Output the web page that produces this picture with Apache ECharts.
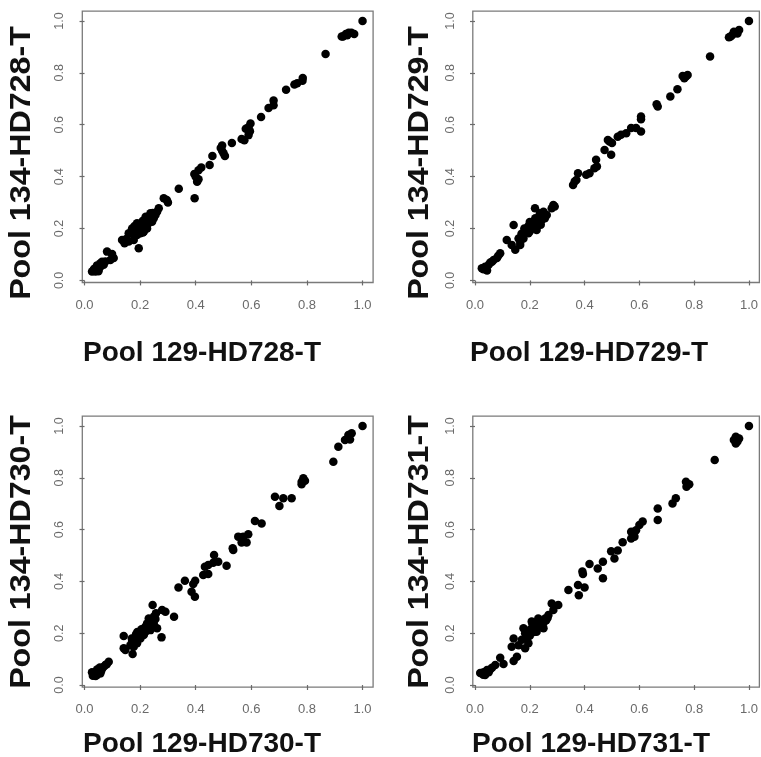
<!DOCTYPE html>
<html>
<head>
<meta charset="utf-8">
<script src="https://cdn.jsdelivr.net/npm/echarts@6/dist/echarts.min.js"></script>
<style>
html,body{margin:0;padding:0;background:#fff;}
#chart{width:761px;height:757px;}
</style>
</head>
<body>
<div id="chart"></div>
<script>
// Tick values shared by all axes
const tickValues = [0, 0.2, 0.4, 0.6, 0.8, 1.0];

// Axis titles
const xTitles = ['Pool 129-HD728-T', 'Pool 129-HD729-T', 'Pool 129-HD730-T', 'Pool 129-HD731-T'];
const yTitles = ['Pool 134-HD728-T', 'Pool 134-HD729-T', 'Pool 134-HD730-T', 'Pool 134-HD731-T'];

// Panel data [x, y]
const hd728 = [
[1.0,1.0],[0.93,0.94],[0.94,0.95],[0.95,0.955],[0.96,0.955],[0.97,0.95],[0.945,0.945],[0.925,0.94],
[0.867,0.873],
[0.785,0.78],[0.784,0.77],[0.765,0.76],[0.755,0.755],
[0.725,0.735],
[0.68,0.693],[0.68,0.675],[0.662,0.665],
[0.635,0.63],
[0.597,0.605],[0.59,0.59],[0.58,0.585],[0.595,0.575],[0.59,0.56],[0.575,0.54],[0.565,0.545],
[0.53,0.53],
[0.495,0.52],[0.495,0.5],[0.5,0.49],[0.505,0.48],[0.49,0.51],
[0.46,0.48],[0.45,0.445],
[0.42,0.435],[0.41,0.425],[0.41,0.39],[0.405,0.38],[0.395,0.41],[0.4,0.4],
[0.396,0.317],[0.339,0.353],
[0.3,0.3],[0.285,0.317],[0.296,0.31],
[0.267,0.278],[0.261,0.265],[0.237,0.259],[0.255,0.252],[0.249,0.24],[0.231,0.246],[0.243,0.226],[0.225,0.233],[0.219,0.214],[0.207,0.22],[0.189,0.22],[0.183,0.195],[0.171,0.2],[0.201,0.2],[0.213,0.188],[0.225,0.2],[0.159,0.182],[0.177,0.175],[0.189,0.175],[0.201,0.182],[0.195,0.21],[0.215,0.205],[0.23,0.22],[0.24,0.235],[0.205,0.195],[0.195,0.19],
[0.18,0.21],[0.2,0.215],[0.21,0.23],[0.22,0.245],[0.235,0.23],[0.25,0.25],[0.17,0.185],[0.185,0.2],[0.215,0.195],[0.225,0.215],[0.245,0.26],[0.21,0.185],
[0.135,0.156],[0.144,0.143],[0.159,0.15],[0.177,0.156],[0.15,0.16],
[0.195,0.124],
[0.081,0.111],[0.099,0.102],[0.105,0.086],[0.093,0.079],[0.075,0.073],
[0.057,0.066],[0.045,0.05],[0.033,0.04],[0.039,0.034],[0.057,0.053],[0.069,0.06],[0.051,0.043],[0.027,0.034],[0.063,0.072],[0.045,0.058],[0.035,0.045],[0.06,0.06],[0.07,0.07],[0.05,0.035]
];
const hd729 = [
[1.0,1.0],[0.927,0.937],[0.939,0.946],[0.958,0.952],[0.964,0.965],[0.945,0.958],[0.933,0.94],
[0.858,0.863],
[0.77,0.786],[0.758,0.788],[0.776,0.792],[0.764,0.779],
[0.739,0.737],[0.713,0.709],
[0.667,0.67],[0.663,0.679],
[0.606,0.632],[0.606,0.621],
[0.606,0.574],[0.588,0.587],[0.57,0.587],[0.552,0.567],[0.533,0.561],[0.521,0.554],[0.491,0.535],[0.485,0.541],[0.497,0.484],[0.473,0.503],[0.5,0.53],
[0.442,0.465],[0.445,0.439],[0.436,0.432],[0.418,0.413],[0.406,0.407],
[0.376,0.413],[0.364,0.381],[0.358,0.368],[0.37,0.387],
[0.286,0.291],[0.28,0.278],[0.291,0.285],
[0.219,0.278],[0.25,0.265],[0.237,0.259],[0.231,0.24],[0.213,0.226],[0.201,0.207],[0.189,0.194],[0.171,0.175],[0.159,0.162],[0.177,0.162],[0.225,0.194],[0.207,0.2],[0.244,0.233],[0.262,0.252],[0.195,0.182],[0.165,0.149],[0.215,0.215],[0.225,0.225],[0.185,0.185],[0.2,0.19],[0.24,0.215],
[0.18,0.2],[0.195,0.21],[0.21,0.205],[0.22,0.24],[0.23,0.215],[0.245,0.25],[0.17,0.18],[0.255,0.24],[0.2,0.225],
[0.141,0.214],
[0.116,0.156],[0.134,0.137],[0.147,0.118],[0.165,0.137],
[0.092,0.105],[0.08,0.086],[0.068,0.079],[0.056,0.069],[0.037,0.053],[0.025,0.047],[0.044,0.038],[0.031,0.043],[0.05,0.06],[0.04,0.045],[0.062,0.072],[0.085,0.095]
];
const hd730 = [
[1.0,1.0],[0.961,0.972],[0.949,0.965],[0.937,0.946],[0.955,0.948],[0.913,0.92],
[0.895,0.862],
[0.787,0.798],[0.781,0.785],[0.793,0.789],[0.781,0.775],
[0.745,0.721],[0.715,0.721],[0.701,0.691],[0.685,0.727],
[0.637,0.624],[0.613,0.633],
[0.589,0.582],[0.571,0.573],[0.565,0.55],[0.583,0.55],[0.553,0.573],
[0.533,0.528],[0.535,0.521],
[0.511,0.461],[0.481,0.476],[0.463,0.472],[0.466,0.502],[0.445,0.463],[0.433,0.457],[0.427,0.425],[0.445,0.429],
[0.398,0.403],[0.391,0.39],[0.385,0.36],[0.397,0.341],[0.361,0.403],[0.338,0.377],
[0.322,0.264],[0.291,0.283],[0.279,0.29],[0.245,0.309],[0.257,0.277],[0.277,0.184],
[0.231,0.257],[0.225,0.238],[0.249,0.238],[0.261,0.219],[0.237,0.212],[0.219,0.206],[0.207,0.2],[0.195,0.187],[0.183,0.18],[0.171,0.167],[0.165,0.154],[0.189,0.161],[0.213,0.193],[0.219,0.225],[0.231,0.232],[0.201,0.18],[0.177,0.148],[0.2,0.2],[0.21,0.215],[0.24,0.25],[0.18,0.17],[0.19,0.175],
[0.185,0.195],[0.195,0.2],[0.205,0.19],[0.215,0.2],[0.225,0.22],[0.235,0.225],[0.245,0.23],[0.235,0.245],[0.255,0.255],[0.17,0.18],[0.19,0.205],[0.205,0.215],[0.25,0.265],[0.175,0.155],
[0.141,0.189],[0.141,0.142],[0.147,0.135],[0.173,0.12],
[0.087,0.09],[0.075,0.077],[0.063,0.064],[0.051,0.058],[0.039,0.049],[0.033,0.039],[0.045,0.039],[0.057,0.045],[0.027,0.049],[0.069,0.071],[0.04,0.035],[0.05,0.05],[0.035,0.045],[0.06,0.055],[0.045,0.06],[0.08,0.08],[0.055,0.068],[0.03,0.036]
];
const hd731 = [
[1.0,1.0],[0.952,0.959],[0.964,0.952],[0.958,0.94],[0.952,0.933],[0.945,0.946],
[0.875,0.869],
[0.77,0.785],[0.782,0.775],[0.772,0.766],
[0.733,0.721],[0.721,0.701],
[0.667,0.682],[0.667,0.637],
[0.612,0.631],[0.6,0.618],[0.588,0.598],[0.57,0.592],[0.582,0.573],[0.57,0.566],[0.539,0.551],
[0.521,0.519],[0.497,0.517],[0.509,0.489],
[0.467,0.476],[0.448,0.45],[0.467,0.412],
[0.418,0.467],[0.392,0.438],[0.394,0.429],
[0.4,0.377],[0.376,0.386],[0.379,0.347],[0.341,0.367],
[0.28,0.315],[0.304,0.309],[0.286,0.29],
[0.268,0.27],[0.256,0.257],[0.244,0.245],[0.231,0.234],[0.213,0.225],[0.201,0.213],[0.183,0.2],[0.207,0.245],[0.231,0.257],[0.25,0.219],[0.225,0.206],[0.195,0.193],[0.177,0.219],[0.189,0.18],[0.171,0.175],[0.22,0.22],[0.24,0.23],[0.26,0.25],
[0.21,0.235],[0.195,0.205],[0.235,0.245],[0.215,0.205],[0.25,0.24],[0.265,0.26],[0.2,0.19],
[0.141,0.18],[0.134,0.148],[0.159,0.154],[0.183,0.142],[0.195,0.161],
[0.153,0.109],[0.141,0.093],
[0.092,0.105],[0.104,0.081],[0.074,0.077],[0.062,0.067],[0.044,0.058],[0.031,0.049],[0.019,0.046],[0.037,0.039],[0.05,0.049],[0.03,0.04],[0.055,0.06],[0.04,0.05]
];
const panels = [hd728, hd729, hd730, hd731];

// Layout (pixel boxes of the four plot regions)
const grids = [
  {left: 82.3, top: 11.1, width: 290.8, height: 271.4},
  {left: 472.8, top: 11.1, width: 287.6, height: 271.4},
  {left: 82.3, top: 416.2, width: 290.8, height: 270.9},
  {left: 472.8, top: 416.2, width: 287.6, height: 270.9}
];
const xTitlePos = [[202, 353], [589, 353], [202, 744], [591, 744]];
const yTitlePos = [[22, 163], [420, 163], [22, 552], [420, 552]];

const FONT = '"Liberation Sans", Arial, sans-serif';
const AXMIN = -0.008, AXMAX = 1.038;

const chart = echarts.init(document.getElementById('chart'), null, {renderer: 'canvas'});

const option = {
  animation: false,
  backgroundColor: '#fff',
  grid: grids.map(g => Object.assign({show: true, borderColor: '#7a7a7a', borderWidth: 1.3, backgroundColor: 'transparent'}, g)),
  xAxis: grids.map((g, i) => ({
    type: 'value', gridIndex: i, min: AXMIN, max: AXMAX,
    splitLine: {show: false},
    axisLine: {show: false},
    axisTick: {show: true, customValues: tickValues, length: 5, inside: false, lineStyle: {color: '#6a6a6a', width: 1.2}},
    axisLabel: {show: true, customValues: tickValues, margin: 16, color: '#6a6a6a', fontSize: 13, fontFamily: FONT,
      formatter: v => v.toFixed(1)}
  })),
  yAxis: grids.map((g, i) => ({
    type: 'value', gridIndex: i, min: AXMIN, max: AXMAX,
    splitLine: {show: false},
    axisLine: {show: false},
    axisTick: {show: true, customValues: tickValues, length: 5, inside: false, lineStyle: {color: '#6a6a6a', width: 1.2}},
    axisLabel: {show: true, customValues: tickValues, margin: 16, rotate: 90, color: '#6a6a6a', fontSize: 12.5, fontFamily: FONT,
      formatter: v => v.toFixed(1)}
  })),
  series: panels.map((d, i) => ({
    type: 'scatter', xAxisIndex: i, yAxisIndex: i, data: d,
    symbol: 'circle', symbolSize: 8.5,
    itemStyle: {color: '#000', opacity: 1},
    silent: true
  })),
  graphic: [].concat(
    xTitles.map((t, i) => ({
      type: 'text', x: xTitlePos[i][0], y: xTitlePos[i][1],
      style: {text: t, font: 'bold 28px ' + FONT, fill: '#111', align: 'center', verticalAlign: 'middle'}
    })),
    yTitles.map((t, i) => ({
      type: 'text', x: yTitlePos[i][0], y: yTitlePos[i][1], rotation: Math.PI / 2, scaleX: 1.11,
      style: {text: t, font: 'bold 29px ' + FONT, fill: '#111', align: 'center', verticalAlign: 'middle'}
    }))
  )
};
chart.setOption(option);
</script>
</body>
</html>
